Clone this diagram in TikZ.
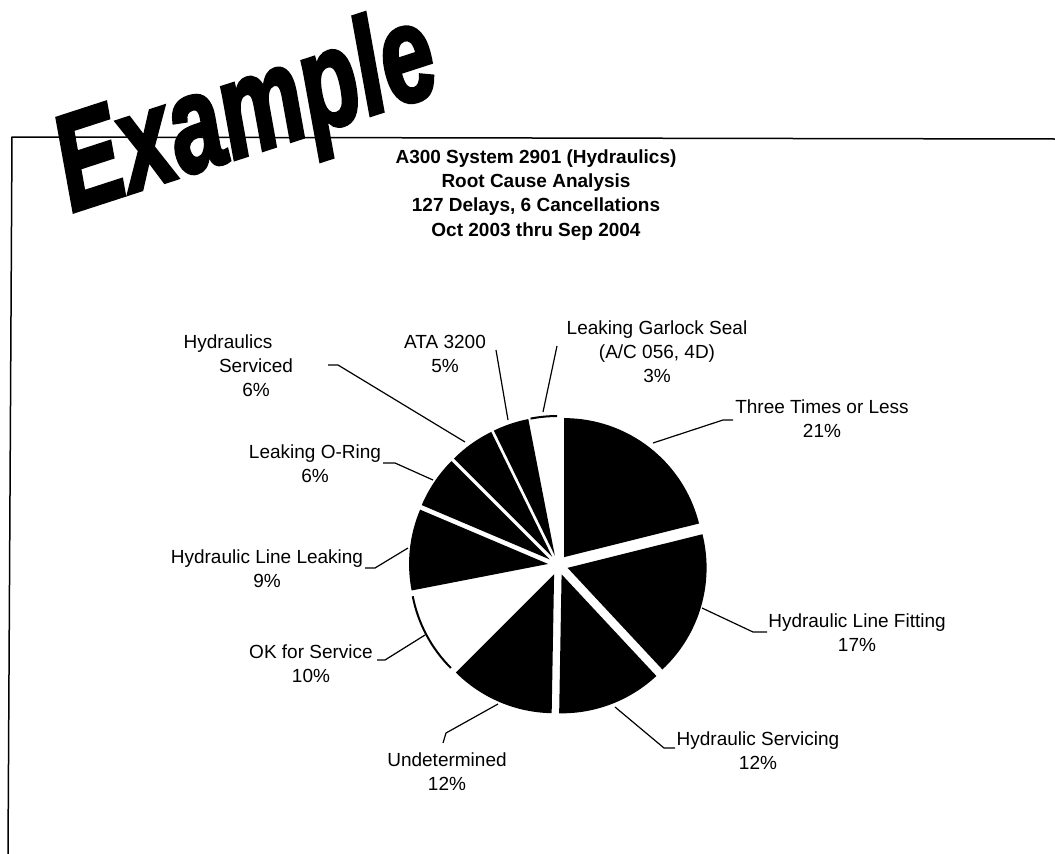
\documentclass[tikz,border=0pt]{standalone}
\usepackage{graphicx}
\usepackage{fontspec}
\setmainfont{Liberation Sans}
\newfontfamily\exfont[FakeBold=3]{Liberation Sans}
\usetikzlibrary{calc}
\newcommand\pieslice[3]{%
  \pgfmathsetmacro\pmid{(#1+#2)/2}%
  \fill[#3] ($(C)+(\pmid:10)$) -- ++(#1:139) arc[start angle=#1, end angle=#2, radius=139] -- cycle;}
\newcommand\piearc[2]{%
  \pgfmathsetmacro\pmid{(#1+#2)/2}%
  \draw[whitearc] ($(C)+(\pmid:10)+(#1:139)$) arc[start angle=#1, end angle=#2, radius=139];}
\begin{document}
\begin{tikzpicture}[x=1pt,y=-1pt,
  lbl/.style={font=\fontsize{19}{24}\selectfont, align=center, anchor=base, inner sep=0pt},
  ttl/.style={font=\bfseries\fontsize{19}{24.3}\selectfont, align=center, anchor=base, inner sep=0pt},
  leader/.style={line width=1.2pt, line join=round},
  darkslice/.style={fill=black},
  whitearc/.style={line width=2pt}]
\useasboundingbox (0,0) rectangle (1055,854);
\fill[white] (0,0) rectangle (1055,854);
% frame
\coordinate (fTL) at (12,137);
\coordinate (fTR) at (1055,139);
\coordinate (fBL) at (8,854);
\draw[line width=1.5pt] (fTR) -- (fTL) -- (fBL);
% Example
\node[rotate=18, anchor=base west, inner sep=0pt] (ex) at (72,212)
  {\exfont\bfseries\itshape\fontsize{136}{136}\selectfont\scalebox{0.7}[1]{Example}};
% title (anchor = baseline of last line)
\node[ttl] (title) at (536,236) {A300 System 2901 (Hydraulics)\\Root Cause Analysis\\127 Delays, 6 Cancellations\\Oct 2003 thru Sep 2004};
% pie
\coordinate (C) at (558,565);
\pieslice{-90}{-14}{darkslice}
\pieslice{-14}{47}{darkslice}
\pieslice{47}{91}{darkslice}
\pieslice{91}{135}{darkslice}
\piearc{135}{169}
\pieslice{169}{203}{darkslice}
\pieslice{203}{225}{darkslice}
\pieslice{225}{244}{darkslice}
\pieslice{244}{259}{darkslice}
\piearc{259}{270}
% labels (anchor = baseline of last line)
\node[lbl] (l1) at (822,437) {Three Times or Less\\21\%};
\node[lbl] (l2) at (857,651) {Hydraulic Line Fitting\\17\%};
\node[lbl] (l3) at (758,769) {Hydraulic Servicing\\12\%};
\node[lbl] (l4) at (447,790) {Undetermined\\12\%};
\node[lbl] (l5) at (311,682) {OK for Service\\10\%};
\node[lbl] (l6) at (267,587) {Hydraulic Line Leaking\\9\%};
\node[lbl] (l7) at (315,482) {Leaking O-Ring\\6\%};
\node[lbl] (l8) at (256,396) {\hspace*{-56pt}Hydraulics\\Serviced\\6\%};
\node[lbl] (l9) at (445,372) {ATA 3200\\5\%};
\node[lbl] (l10) at (657,382) {Leaking Garlock Seal\\(A/C 056, 4D)\\3\%};
% leaders
\coordinate (s1) at (653,443); \coordinate (b1) at (723,420); \coordinate (e1) at (733,420);
\coordinate (s2) at (702,608); \coordinate (b2) at (753,632); \coordinate (e2) at (767,632);
\coordinate (s3) at (615,707); \coordinate (b3) at (664,748); \coordinate (e3) at (675,748);
\coordinate (s4) at (498,704); \coordinate (b4) at (446,733); \coordinate (e4) at (443,743);
\coordinate (s5) at (425,635); \coordinate (b5) at (385,660); \coordinate (e5) at (377,660);
\coordinate (s6) at (408,548); \coordinate (b6) at (375,568); \coordinate (e6) at (365,568);
\coordinate (s7) at (433,480); \coordinate (b7) at (395,463); \coordinate (e7) at (383,463);
\coordinate (s8) at (465,442); \coordinate (b8) at (338,365); \coordinate (e8) at (328,365);
\coordinate (s9) at (508,420); \coordinate (e9) at (496,350);
\coordinate (s10) at (543,412); \coordinate (e10) at (557,346);
\draw[leader] (s1) -- (b1) -- (e1);
\draw[leader] (s2) -- (b2) -- (e2);
\draw[leader] (s3) -- (b3) -- (e3);
\draw[leader] (s4) -- (b4) -- (e4);
\draw[leader] (s5) -- (b5) -- (e5);
\draw[leader] (s6) -- (b6) -- (e6);
\draw[leader] (s7) -- (b7) -- (e7);
\draw[leader] (s8) -- (b8) -- (e8);
\draw[leader] (s9) -- (e9);
\draw[leader] (s10) -- (e10);
\end{tikzpicture}
\end{document}
